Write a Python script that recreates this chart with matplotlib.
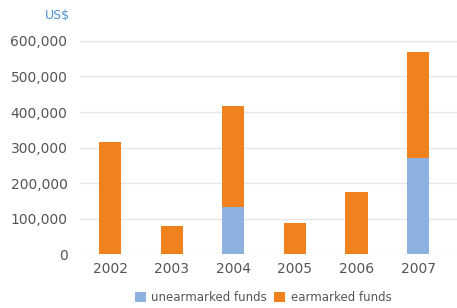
import matplotlib.pyplot as plt
import numpy as np

years = ["2002", "2003", "2004", "2005", "2006", "2007"]
unearmarked = [0, 0, 132000, 0, 0, 270000]
earmarked = [315000, 79000, 285000, 87000, 175000, 299000]

orange = "#F0821E"
blue = "#8DB2DF"
grey = "#555555"

fig = plt.figure(figsize=(4.57, 3.08), dpi=100)
ax = fig.add_axes([0.175, 0.175, 0.825, 0.692])

x = np.arange(len(years))
w = 0.36
ax.bar(x, unearmarked, w, color=blue, zorder=3, label="unearmarked funds")
ax.bar(x, earmarked, w, bottom=unearmarked, color=orange, zorder=3, label="earmarked funds")

ax.set_xlim(-0.49, 5.63)
ax.set_ylim(0, 600000)
ax.set_yticks(np.arange(0, 600001, 100000))
ax.set_yticklabels([f"{v:,}" for v in range(0, 600001, 100000)])
ax.set_xticks(x)
ax.set_xticklabels(years)
ax.yaxis.grid(True, color="#e6e6e6", linewidth=1, zorder=0)
for s in ax.spines.values():
    s.set_visible(False)
ax.tick_params(length=0, colors=grey, labelsize=10)
ax.tick_params(axis="y", pad=9)
ax.tick_params(axis="x", pad=6)

fig.text(0.153, 0.95, "US$", color="#4a90d0", fontsize=9, ha="right", va="center")

fig.legend(loc="center", bbox_to_anchor=(0.576, 0.033), ncol=2, frameon=False,
           fontsize=8.5, handlelength=0.9, handleheight=0.9, columnspacing=0.6,
           handletextpad=0.5, labelcolor=grey)

fig.savefig("out.png", dpi=100)
